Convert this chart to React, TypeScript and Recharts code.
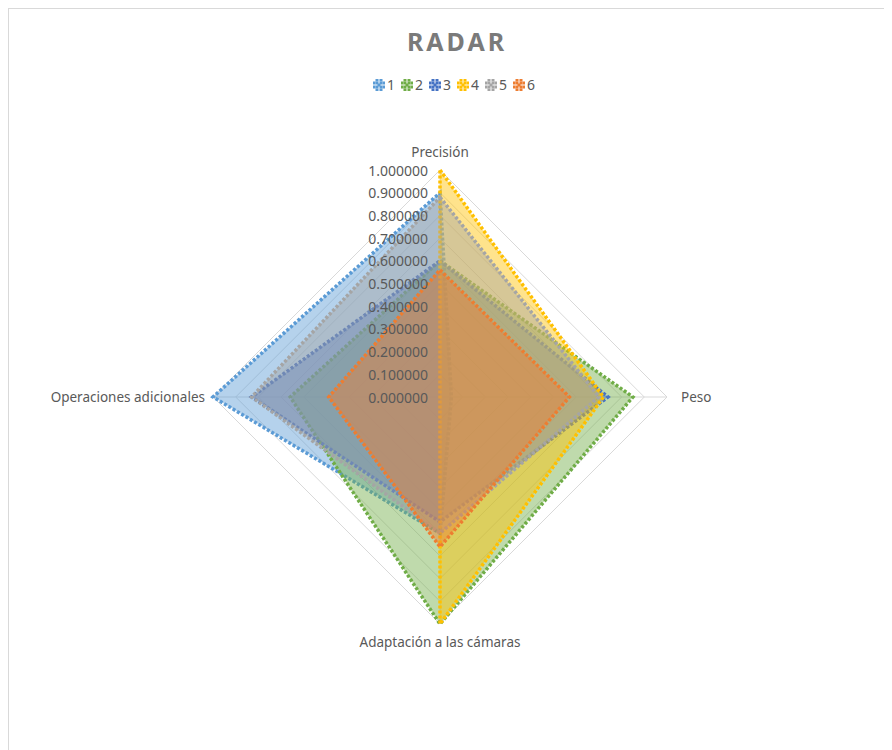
import {
  RadarChart,
  Radar,
  PolarGrid,
  PolarAngleAxis,
  PolarRadiusAxis,
} from "recharts";

const categories = [
  "Precisión",
  "Peso",
  "Adaptación a las cámaras",
  "Operaciones adicionales",
];

// one array per series, same order as categories
const serie1 = [0.9, 0.05, 0.6, 1.0];
const serie2 = [0.6, 0.85, 1.0, 0.66];
const serie3 = [0.6, 0.74, 0.55, 0.83];
const serie4 = [1.0, 0.72, 1.0, 0.0];
const serie5 = [0.88, 0.7, 0.6, 0.83];
const serie6 = [0.56, 0.57, 0.66, 0.49];

const seriesNames = ["1", "2", "3", "4", "5", "6"];
const seriesColors = ["#5B9BD5", "#70AD47", "#4472C4", "#FFC000", "#A5A5A5", "#ED7D31"];
const radiusTicks = [0, 0.1, 0.2, 0.3, 0.4, 0.5, 0.6, 0.7, 0.8, 0.9, 1.0];

const allSeries = [serie1, serie2, serie3, serie4, serie5, serie6];

const data = categories.map((c, i) => {
  const row: Record<string, string | number> = { axis: c };
  allSeries.forEach((s, k) => {
    row["s" + (k + 1)] = s[i];
  });
  return row;
});

const FONT = "'Noto Sans', 'Open Sans', sans-serif";

// eslint-disable-next-line @typescript-eslint/no-explicit-any
const RadiusTick = ({ x, y, payload }: any) => (
  <text
    x={x - 12}
    y={y}
    textAnchor="end"
    dominantBaseline="central"
    fontSize={14}
    fill="#595959"
    fontFamily={FONT}
  >
    {Number(payload.value).toFixed(6)}
  </text>
);

// eslint-disable-next-line @typescript-eslint/no-explicit-any
const AngleTick = ({ x, y, payload, cx, cy }: any) => {
  const dx = x - cx;
  const dy = y - cy;
  let anchor = "middle";
  let tx = x;
  let ty = y;
  if (Math.abs(dx) > Math.abs(dy)) {
    anchor = dx > 0 ? "start" : "end";
    tx = x + (dx > 0 ? 6 : 0);
  } else {
    ty = y + (dy > 0 ? 10 : -10);
  }
  return (
    <text
      x={tx}
      y={ty}
      textAnchor={anchor}
      dominantBaseline="central"
      fontSize={13.5}
      fill="#595959"
      fontFamily={FONT}
    >
      {payload.value}
    </text>
  );
};

const LegendIcon = ({ color }: { color: string }) => (
  <svg width={12} height={12} style={{ marginRight: 2 }}>
    {[
      [4, 1], [8, 1], [1, 4], [11, 4], [1, 8], [11, 8], [4, 11], [8, 11],
      [4, 4], [8, 4], [4, 8], [8, 8], [6, 6],
    ].map(([px, py], i) => (
      <rect key={i} x={px - 1.5} y={py - 1.5} width={3} height={3} fill={color} />
    ))}
  </svg>
);

export default function App() {
  return (
    <div style={{ position: "relative", width: 900, height: 760, border: "1px solid #d9d9d9", background: "#fff", overflow: "hidden" }}>
      <style>{"body{overflow:hidden}"}</style>
      <div
        style={{
          position: "absolute",
          top: 15,
          left: 2,
          width: 892,
          textAlign: "center",
          fontFamily: FONT,
          fontWeight: "bold",
          fontSize: 25,
          letterSpacing: 3,
          color: "#7a7a7a",
        }}
      >
        RADAR
      </div>
      <div
        style={{
          position: "absolute",
          top: 66,
          left: 2,
          width: 892,
          display: "flex",
          justifyContent: "center",
          fontFamily: FONT,
          fontSize: 14,
          color: "#595959",
        }}
      >
        {seriesNames.map((n, i) => (
          <span key={n} style={{ display: "flex", alignItems: "center", marginRight: 6 }}>
            <LegendIcon color={seriesColors[i]} />
            {n}
          </span>
        ))}
      </div>
      <div style={{ position: "absolute", left: 0, top: 0 }}>
        <RadarChart
          width={884}
          height={741}
          data={data}
          cx={431}
          cy={388}
          outerRadius={227}
          startAngle={90}
          endAngle={-270}
        >
          <PolarGrid gridType="polygon" stroke="#d9d9d9" radialLines={true} />
          <PolarAngleAxis dataKey="axis" tick={<AngleTick />} tickLine={false} axisLine={false} />
          <PolarRadiusAxis
            angle={90}
            domain={[0, 1]}
            ticks={radiusTicks}
            tick={<RadiusTick />}
            axisLine={false}
            tickLine={false}
          />
          {seriesNames.map((n, i) => (
            <Radar
              key={n}
              name={n}
              dataKey={"s" + (i + 1)}
              stroke={seriesColors[i]}
              strokeWidth={3.5}
              strokeDasharray="3 2"
              fill={seriesColors[i]}
              fillOpacity={0.45}
              dot={false}
              isAnimationActive={false}
            />
          ))}
        </RadarChart>
      </div>
    </div>
  );
}
